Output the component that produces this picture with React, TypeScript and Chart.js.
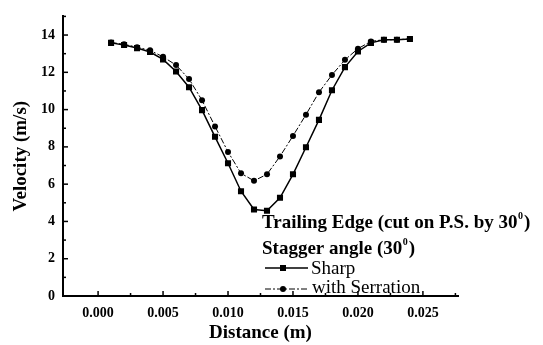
import React, { useEffect, useRef } from "react";
import { Chart, registerables } from "chart.js";

Chart.register(...registerables);

const distance = [
  0.001, 0.002, 0.003, 0.004, 0.005, 0.006, 0.007, 0.008, 0.009, 0.01, 0.011, 0.012,
  0.013, 0.014, 0.015, 0.016, 0.017, 0.018, 0.019, 0.02, 0.021, 0.022, 0.023, 0.024,
];
const sharp = [
  13.58, 13.47, 13.3, 13.09, 12.69, 12.04, 11.2, 9.97, 8.54, 7.12, 5.62, 4.64,
  4.57, 5.27, 6.53, 7.98, 9.45, 11.04, 12.28, 13.12, 13.58, 13.75, 13.75, 13.79,
];
const serration = [
  13.6, 13.5, 13.35, 13.18, 12.83, 12.39, 11.64, 10.5, 9.1, 7.73, 6.58, 6.18,
  6.53, 7.49, 8.59, 9.73, 10.93, 11.86, 12.67, 13.27, 13.66, 13.75, 13.75, 13.79,
];
const xTicks = [0, 0.005, 0.01, 0.015, 0.02, 0.025];
const yTicks = [0, 2, 4, 6, 8, 10, 12, 14];
const xMinorTicks = [0.0025, 0.0075, 0.0125, 0.0175, 0.0225, 0.0275];
const yMinorTicks = [1, 3, 5, 7, 9, 11, 13, 15];

const FONT = '"Liberation Serif", "DejaVu Serif", serif';
const SERRATION_DASH = [6, 2, 2, 2];

const inwardTicks = {
  id: "inwardTicks",
  afterDraw(chart: any) {
    const { ctx, chartArea } = chart;
    const xs = chart.scales.x;
    const ys = chart.scales.y;
    ctx.save();
    ctx.strokeStyle = "#000";
    ctx.lineWidth = 1.5;
    const drawX = (v: number, len: number) => {
      const px = xs.getPixelForValue(v);
      ctx.beginPath();
      ctx.moveTo(px, chartArea.bottom);
      ctx.lineTo(px, chartArea.bottom - len);
      ctx.stroke();
    };
    const drawY = (v: number, len: number) => {
      const py = ys.getPixelForValue(v);
      ctx.beginPath();
      ctx.moveTo(chartArea.left, py);
      ctx.lineTo(chartArea.left + len, py);
      ctx.stroke();
    };
    xTicks.forEach((v) => drawX(v, 5));
    xMinorTicks.forEach((v) => drawX(v, 3));
    yTicks.forEach((v) => v !== 0 && drawY(v, 5));
    yMinorTicks.forEach((v) => drawY(v, 3));
    ctx.restore();
  },
};

function drawWithSup(ctx: any, x: number, y: number, before: string, sup: string, after: string) {
  ctx.font = `bold 19px ${FONT}`;
  ctx.fillText(before, x, y);
  let w = ctx.measureText(before).width;
  ctx.font = `bold 10px ${FONT}`;
  ctx.fillText(sup, x + w + 0.5, y - 9);
  w += ctx.measureText(sup).width + 1.5;
  ctx.font = `bold 19px ${FONT}`;
  ctx.fillText(after, x + w, y);
}

const customLegend = {
  id: "customLegend",
  afterDraw(chart: any) {
    const { ctx } = chart;
    ctx.save();
    ctx.fillStyle = "#000";
    ctx.textBaseline = "alphabetic";
    ctx.textAlign = "left";
    drawWithSup(ctx, 262, 228, "Trailing Edge (cut on P.S. by 30", "0", ")");
    drawWithSup(ctx, 262, 254, "Stagger angle (30", "0", ")");

    // Sharp entry
    ctx.strokeStyle = "#000";
    ctx.lineWidth = 1.5;
    ctx.setLineDash([]);
    ctx.beginPath();
    ctx.moveTo(265, 268);
    ctx.lineTo(308, 268);
    ctx.stroke();
    ctx.fillRect(280, 265, 6, 6);
    ctx.font = `19px ${FONT}`;
    ctx.fillText("Sharp", 311, 274);

    // Serration entry
    ctx.lineWidth = 1;
    ctx.setLineDash(SERRATION_DASH);
    ctx.beginPath();
    ctx.moveTo(265, 289);
    ctx.lineTo(308, 289);
    ctx.stroke();
    ctx.setLineDash([]);
    ctx.beginPath();
    ctx.arc(283, 289, 3, 0, Math.PI * 2);
    ctx.fill();
    ctx.fillText("with Serration", 312, 293);
    ctx.restore();
  },
};

export default function App() {
  const ref = useRef<HTMLCanvasElement | null>(null);
  useEffect(() => {
    if (!ref.current) return;
    const chart = new Chart(ref.current, {
      type: "line",
      data: {
        datasets: [
          {
            label: "Sharp",
            data: distance.map((x, i) => ({ x, y: sharp[i] })),
            borderColor: "#000",
            backgroundColor: "#000",
            borderWidth: 1.5,
            pointStyle: "rect",
            pointRadius: 4.3,
            pointBorderWidth: 0,
            tension: 0,
          },
          {
            label: "with Serration",
            data: distance.map((x, i) => ({ x, y: serration[i] })),
            borderColor: "#000",
            backgroundColor: "#000",
            borderWidth: 1,
            borderDash: SERRATION_DASH,
            pointStyle: "circle",
            pointRadius: 3,
            pointBorderWidth: 0,
            tension: 0,
          },
        ],
      },
      options: {
        animation: false,
        responsive: false,
        layout: { padding: { top: 10, right: 85, left: 0, bottom: 0 } },
        plugins: { legend: { display: false }, tooltip: { enabled: false } },
        scales: {
          x: {
            type: "linear",
            min: -0.0027,
            max: 0.0277,
            grid: { display: false, drawTicks: false },
            border: { display: true, color: "#000", width: 2 },
            afterBuildTicks: (s: any) => {
              s.ticks = xTicks.map((v) => ({ value: v }));
            },
            afterFit: (s: any) => {
              s.height = 49;
            },
            ticks: {
              color: "#000",
              padding: 9,
              maxRotation: 0,
              autoSkip: false,
              font: { family: FONT, size: 14, weight: "bold" },
              callback: (v: any) => Number(v).toFixed(3),
            },
            title: {
              display: true,
              text: "Distance (m)",
              color: "#000",
              font: { family: FONT, size: 19, weight: "bold" },
              padding: { top: 0, bottom: 1 },
            },
          },
          y: {
            type: "linear",
            min: 0,
            max: 15,
            grid: { display: false, drawTicks: false },
            border: { display: true, color: "#000", width: 2 },
            afterBuildTicks: (s: any) => {
              s.ticks = yTicks.map((v) => ({ value: v }));
            },
            afterFit: (s: any) => {
              s.width = 63;
            },
            ticks: {
              color: "#000",
              padding: 8,
              autoSkip: false,
              font: { family: FONT, size: 14, weight: "bold" },
              callback: (v: any) => String(v),
            },
            title: {
              display: true,
              text: "Velocity (m/s)",
              color: "#000",
              font: { family: FONT, size: 19, weight: "bold" },
              padding: { top: 10, bottom: 0 },
            },
          },
        },
      },
      plugins: [inwardTicks, customLegend],
    });
    return () => chart.destroy();
  }, []);
  return (
    <div style={{ position: "fixed", left: 0, top: 0, width: 543, height: 345, background: "#fff" }}>
      <canvas ref={ref} width={543} height={345} />
    </div>
  );
}
